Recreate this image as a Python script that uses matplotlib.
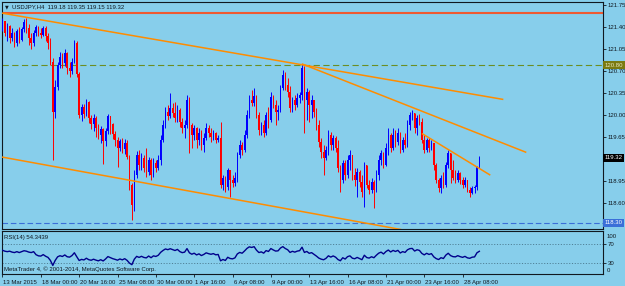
import numpy as np
import matplotlib.pyplot as plt
import matplotlib.transforms as mtransforms

plt.rcParams['font.family'] = ['Liberation Sans', 'DejaVu Sans']
plt.rcParams['lines.scale_dashes'] = False

# --- data (USDJPY, H4) ---
symbol = "USDJPY,H4"
last_ohlc = "119.18 119.35 119.15 119.32"
first_open = 121.36

closes = [
    121.50, 121.30, 121.42, 121.22, 121.30, 121.15, 121.33, 121.20, 121.37, 121.48,
    121.38, 121.22, 121.15, 121.30, 121.40, 121.30, 121.28, 121.38, 121.25, 121.15,
    120.85, 120.05, 120.45, 120.80, 120.92, 120.82, 120.98, 120.75, 120.70, 120.85,
    121.15, 120.65, 120.00, 120.12, 120.02, 120.20, 119.95, 119.85, 119.95, 119.80,
    119.68, 119.78, 119.58, 119.75, 119.98, 119.85, 119.70, 119.60, 119.48, 119.58,
    119.46, 119.55, 119.33, 118.89, 118.57, 119.05, 119.36, 119.20, 119.32, 119.16,
    119.09, 119.28, 119.05, 119.24, 119.16, 119.28, 119.60, 119.84, 120.05, 119.98,
    120.11, 120.03, 119.95, 120.08, 119.89, 119.79, 119.84, 120.24, 119.84, 119.68,
    119.79, 119.60, 119.71, 119.52, 119.63, 119.79, 119.71, 119.65, 119.71, 119.60,
    119.63, 118.89, 119.00, 118.86, 119.13, 118.97, 118.92, 119.00, 119.36, 119.52,
    119.44, 119.68, 120.00, 120.24, 120.19, 120.30, 120.00, 119.76, 119.84, 119.71,
    120.00, 119.92, 120.29, 120.16, 120.05, 120.08, 120.43, 120.64, 120.48, 120.37,
    120.11, 120.24, 120.16, 120.27, 120.32, 120.75, 120.24, 120.37, 120.16, 120.24,
    120.05, 119.84, 119.57, 119.41, 119.32, 119.44, 119.68, 119.52, 119.63, 119.48,
    119.16, 118.97, 119.24, 119.05, 119.28, 119.36, 119.05, 118.97, 119.09, 118.94,
    118.78, 119.20, 118.89, 118.81, 118.94, 118.81, 119.05, 119.28, 119.40, 119.20,
    119.48, 119.68, 119.48, 119.68, 119.57, 119.71, 119.44, 119.60, 119.52, 119.84,
    120.00, 120.03, 119.79, 119.95, 119.89, 119.60, 119.44, 119.60, 119.48, 119.56,
    119.20, 118.97, 118.84, 119.00, 118.89, 119.20, 119.40, 119.13, 119.00, 118.97,
    119.08, 118.97, 118.89, 118.97, 118.81, 118.76, 118.84, 118.86, 119.18, 119.32,
]

highs = [
    121.55, 121.50, 121.46, 121.44, 121.38, 121.32, 121.37, 121.40, 121.40, 121.52,
    121.54, 121.45, 121.30, 121.35, 121.44, 121.42, 121.38, 121.42, 121.42, 121.30,
    121.22, 120.90, 120.55, 120.85, 121.00, 120.98, 121.05, 121.00, 120.85, 120.90,
    121.19, 121.18, 120.68, 120.18, 120.18, 120.26, 120.22, 120.00, 120.02, 119.98,
    119.85, 119.82, 119.80, 119.80, 120.02, 119.98, 119.88, 119.75, 119.65, 119.62,
    119.64, 119.62, 119.60, 119.36, 118.92, 119.12, 119.43, 119.44, 119.40, 119.36,
    119.48, 119.33, 119.32, 119.32, 119.28, 119.36, 119.68, 119.92, 120.13, 120.16,
    120.35, 120.19, 120.21, 120.16, 120.11, 119.95, 119.92, 120.32, 120.29, 119.87,
    119.84, 119.81, 119.79, 119.76, 119.71, 119.87, 119.84, 119.79, 119.76, 119.73,
    119.68, 119.89, 119.05, 119.03, 119.16, 119.13, 119.05, 119.09, 119.41, 119.60,
    119.57, 119.76, 120.08, 120.32, 120.40, 120.43, 120.32, 120.05, 119.89, 119.92,
    120.05, 120.13, 120.37, 120.32, 120.24, 120.16, 120.48, 120.72, 120.68, 120.59,
    120.46, 120.29, 120.32, 120.35, 120.37, 120.81, 120.78, 120.43, 120.40, 120.32,
    120.24, 120.11, 119.92, 119.63, 119.52, 119.51, 119.76, 119.73, 119.68, 119.67,
    119.60, 119.20, 119.28, 119.28, 119.36, 119.44, 119.36, 119.16, 119.16, 119.13,
    119.05, 119.25, 119.20, 118.97, 119.00, 118.97, 119.13, 119.36, 119.44, 119.41,
    119.55, 119.79, 119.71, 119.79, 119.76, 119.79, 119.73, 119.65, 119.71, 119.92,
    120.05, 120.08, 120.03, 120.00, 120.02, 119.95, 119.68, 119.63, 119.63, 119.60,
    119.55, 119.24, 119.00, 119.05, 119.09, 119.25, 119.44, 119.40, 119.28, 119.13,
    119.13, 119.09, 119.01, 119.01, 118.97, 118.85, 118.87, 118.89, 119.19, 119.35,
]

lows = [
    121.33, 121.25, 121.17, 121.15, 121.18, 121.08, 121.10, 121.15, 121.18, 121.32,
    121.30, 121.12, 121.05, 121.10, 121.25, 121.25, 121.22, 121.25, 121.18, 121.05,
    120.80, 119.28, 119.95, 120.40, 120.75, 120.75, 120.78, 120.66, 120.60, 120.65,
    120.82, 120.60, 119.95, 119.90, 119.95, 119.98, 119.88, 119.78, 119.75, 119.65,
    119.62, 119.55, 119.22, 119.50, 119.70, 119.70, 119.62, 119.50, 119.18, 119.42,
    119.40, 119.38, 119.30, 118.81, 118.33, 118.48, 119.00, 119.13, 119.13, 119.09,
    119.01, 119.05, 118.97, 119.01, 119.09, 119.13, 119.20, 119.57, 119.79, 119.92,
    119.95, 119.97, 119.89, 119.89, 119.81, 119.71, 119.63, 119.79, 119.40, 119.48,
    119.60, 119.48, 119.52, 119.44, 119.41, 119.60, 119.65, 119.57, 119.60, 119.55,
    119.57, 118.84, 118.81, 118.78, 118.81, 118.70, 118.85, 118.87, 118.93, 119.32,
    119.36, 119.41, 119.63, 119.95, 120.14, 120.14, 119.95, 119.68, 119.68, 119.65,
    119.68, 119.79, 119.89, 120.11, 119.84, 119.92, 120.05, 120.40, 120.40, 120.29,
    120.05, 120.05, 120.08, 120.13, 120.19, 120.24, 119.71, 119.92, 119.89, 119.95,
    119.97, 119.76, 119.49, 119.32, 119.05, 119.28, 119.36, 119.44, 119.44, 119.41,
    119.09, 118.78, 118.92, 118.97, 119.00, 119.13, 118.97, 118.87, 118.70, 118.85,
    118.70, 118.54, 118.84, 118.74, 118.76, 118.52, 118.78, 118.97, 119.20, 119.16,
    119.19, 119.36, 119.41, 119.44, 119.49, 119.52, 119.40, 119.41, 119.48, 119.49,
    119.76, 119.92, 119.71, 119.68, 119.84, 119.55, 119.40, 119.41, 119.41, 119.44,
    119.13, 118.92, 118.78, 118.76, 118.84, 118.85, 119.16, 118.92, 118.97, 118.92,
    118.93, 118.90, 118.84, 118.85, 118.78, 118.70, 118.74, 118.76, 118.81, 119.15,
]

time_labels = ["13 Mar 2015", "18 Mar 00:00", "20 Mar 16:00", "25 Mar 08:00",
               "30 Mar 00:00", "1 Apr 16:00", "6 Apr 08:00", "9 Apr 00:00",
               "13 Apr 16:00", "16 Apr 08:00", "21 Apr 00:00", "23 Apr 16:00",
               "28 Apr 08:00"]
bars_per_label = 16

price_ticks = [121.75, 121.40, 121.05, 120.70, 120.35, 120.00, 119.65,
               119.30, 118.95, 118.60, 118.25]

# trendlines drawn on the chart: (bar, price) end points
trend_start_bar = [0, 125.2, 175.3, 0]
trend_start_price = [121.62, 120.81, 119.70, 119.33]
trend_end_bar = [208.7, 218.3, 203.3, 166.1]
trend_end_price = [120.25, 119.41, 119.05, 118.18]

red_level = 121.63
green_level = 120.79
blue_level = 118.29

rsi_period = 14
rsi_head = [57, 55, 54, 55, 53, 52, 54, 52, 54, 56, 55, 53, 52, 54]
rsi_levels = [70, 30]
rsi_last_text = "54.3439"

# --- figure ---
bg = '#87CEEB'
W, H = 625, 286
fig = plt.figure(figsize=(W / 100, H / 100), dpi=100, facecolor=bg)
fs = 4.3

def fbox(x0, y0, x1, y1):
    return [x0 / W, 1 - y1 / H, (x1 - x0) / W, (y1 - y0) / H]

ax = fig.add_axes(fbox(2, 2, 603, 229))
ax_rsi = fig.add_axes(fbox(2, 231, 603, 274), sharex=ax)
for a in (ax, ax_rsi):
    a.set_facecolor(bg)
    for s in a.spines.values():
        s.set_color('#101820')
        s.set_linewidth(0.8)

c = np.array(closes)
h = np.array(highs)
l = np.array(lows)
o = np.r_[first_open, c[:-1]]
x = np.arange(len(c))
up = c >= o
cols = np.where(up, '#0000FF', '#FF0000')

ax.vlines(x, np.minimum(l, np.minimum(o, c)), np.maximum(h, np.maximum(o, c)),
          colors=cols, linewidth=0.7, zorder=3)
body = np.maximum(np.abs(c - o), 0.012)
ax.bar(x, body, bottom=np.minimum(o, c), width=0.62, color=cols, linewidth=0, zorder=3)

ax.axhline(red_level, color='#EE5A32', linewidth=1.5, zorder=2)
ax.axhline(green_level, color='#6B8E23', linewidth=0.8, dashes=(4.5, 2.5), zorder=2)
ax.axhline(blue_level, color='#3A6FD8', linewidth=0.8, dashes=(4, 2), zorder=2)

for xs, ys, xe, ye in zip(trend_start_bar, trend_start_price, trend_end_bar, trend_end_price):
    ax.plot([xs, xe], [ys, ye], color='#FF8C00', linewidth=1.1, zorder=4)

ax.set_xlim(-0.2, 250.6)
ax.set_ylim(118.187, 121.798)
ax.yaxis.tick_right()
ax.set_yticks(price_ticks)
# the 119.30 and 118.25 labels sit under the price boxes in the original
hidden = {119.30, 118.25}
ax.set_yticklabels(["" if p in hidden else f"{p:.2f}" for p in price_ticks])
ax.tick_params(axis='y', direction='out', length=2.5, width=0.6, pad=1,
               labelsize=fs, colors='#101820')
ax.tick_params(axis='x', bottom=False, labelbottom=False)

def price_box(price, text, face, tcolor):
    ax.annotate(text, xy=(1, price), xycoords=('axes fraction', 'data'),
                xytext=(1.2, 0), textcoords='offset points', va='center', ha='left',
                fontsize=fs, color=tcolor, annotation_clip=False, zorder=10,
                bbox=dict(boxstyle='square,pad=0.25', fc=face, ec='none'))

price_box(green_level, "120.80", '#7A7A10', '#E8E8C0')
price_box(c[-1], f"{c[-1]:.2f}", '#000000', '#FFFFFF')
price_box(blue_level, "118.30", '#3A6FD8', '#FFFFFF')

# RSI: Wilder smoothing from the closes; head values
d = np.diff(c)
gain = np.clip(d, 0, None)
loss = np.clip(-d, 0, None)
rsi = np.full(len(c), np.nan)
ag = gain[:rsi_period].mean()
al = loss[:rsi_period].mean()
rsi[rsi_period] = 100 - 100 / (1 + ag / al)
for i in range(rsi_period + 1, len(c)):
    ag = (ag * (rsi_period - 1) + gain[i - 1]) / rsi_period
    al = (al * (rsi_period - 1) + loss[i - 1]) / rsi_period
    rsi[i] = 100 - 100 / (1 + ag / al)
rsi[:rsi_period] = rsi_head

ax_rsi.plot(x, rsi, color='#00008B', linewidth=1.0, zorder=3)
for lv in rsi_levels:
    ax_rsi.axhline(lv, color='#4F7F95', linewidth=0.7, dashes=(0.8, 1.2), zorder=2)
ax_rsi.set_ylim(5.4, 98.9)
ax_rsi.yaxis.tick_right()
ax_rsi.set_yticks(rsi_levels)
ax_rsi.set_yticklabels([str(v) for v in rsi_levels])
ax_rsi.tick_params(axis='y', direction='out', length=2.5, width=0.6, pad=1,
                   labelsize=fs, colors='#101820')
ax_rsi.text(1.006, 0.88, "100", transform=ax_rsi.transAxes, fontsize=fs,
            va='center', ha='left', color='#101820')
ax_rsi.text(1.006, 0.07, "0", transform=ax_rsi.transAxes, fontsize=fs,
            va='center', ha='left', color='#101820')

ticks = [k * bars_per_label for k in range(len(time_labels))]
ax_rsi.set_xticks(ticks)
ax_rsi.set_xticklabels(time_labels, ha='left')
ax_rsi.tick_params(axis='x', direction='out', length=2.5, width=0.6, pad=1.5,
                   labelsize=fs, colors='#101820')
off = mtransforms.ScaledTranslation(1 / 100, 0, fig.dpi_scale_trans)
for lab in ax_rsi.get_xticklabels():
    lab.set_transform(lab.get_transform() + off)

ax_rsi.text(0.004, 0.86, f"RSI({rsi_period}) {rsi_last_text}", transform=ax_rsi.transAxes,
            fontsize=fs, va='center', ha='left', color='#101820')
ax_rsi.text(0.004, 0.12, "MetaTrader 4, © 2001-2014, MetaQuotes Software Corp.",
            transform=ax_rsi.transAxes, fontsize=fs, va='center', ha='left',
            color='#101820')

fig.text(5 / W, 1 - 7 / H, "▼", fontsize=3.5, va='center', ha='left', color='#101820',
         family=['DejaVu Sans'])
fig.text(12 / W, 1 - 7 / H, f"{symbol}  {last_ohlc}", fontsize=fs, va='center',
         ha='left', color='#101820')

fig.savefig("out.png", dpi=100, facecolor=bg)
